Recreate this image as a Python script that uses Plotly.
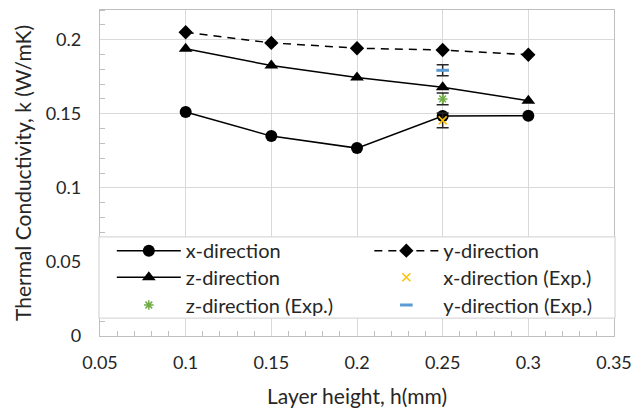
import plotly.graph_objects as go

# Data
layer_h = [0.1, 0.15, 0.2, 0.25, 0.3]
k_x = [0.1512, 0.1349, 0.1268, 0.1484, 0.1487]
k_y = [0.2050, 0.1978, 0.1942, 0.1930, 0.1898]
k_z = [0.1938, 0.1825, 0.1745, 0.1678, 0.1588]

exp_h = [0.25]
k_x_exp = [0.1455]
k_x_exp_err = [0.0050]
k_z_exp = [0.1600]
k_z_exp_err = [0.0040]
k_y_exp = [0.1793]
k_y_exp_err = [0.0037]

FONT = "Lato"
TXT = "#262626"
fig = go.Figure()

line = dict(color="black", width=1.5)
err_style = dict(type="data", color="#262626", thickness=1.5, width=6)

fig.add_trace(go.Scatter(x=layer_h, y=k_x, name="x-direction", mode="lines+markers",
                         line=line, marker=dict(symbol="circle", size=12, color="black"),
                         legend="legend2"))
fig.add_trace(go.Scatter(x=layer_h, y=k_y, name="y-direction", mode="lines+markers",
                         line=dict(color="black", width=1.5, dash="8px,6px"),
                         marker=dict(symbol="diamond", size=11, color="black"),
                         legend="legend3"))
fig.add_trace(go.Scatter(x=layer_h, y=k_z, name="z-direction", mode="lines+markers",
                         line=line, marker=dict(symbol="triangle-up", size=12, color="black"),
                         legend="legend4"))
fig.add_trace(go.Scatter(x=exp_h, y=k_x_exp, name="x-direction (Exp.)", mode="markers",
                         marker=dict(symbol="x-thin-open", size=8, color="#FFC000",
                                     line=dict(color="#FFC000", width=1.5)),
                         error_y=dict(array=k_x_exp_err, **err_style),
                         legend="legend5"))
fig.add_trace(go.Scatter(x=exp_h, y=k_z_exp, name="z-direction (Exp.)", mode="markers",
                         marker=dict(symbol="asterisk-open", size=8, color="#70AD47",
                                     line=dict(color="#70AD47", width=1.5)),
                         error_y=dict(array=k_z_exp_err, **err_style),
                         legend="legend6"))
fig.add_trace(go.Scatter(x=exp_h, y=k_y_exp, name="y-direction (Exp.)", mode="markers",
                         marker=dict(symbol="line-ew-open", size=9, color="#5B9BD5",
                                     line=dict(color="#5B9BD5", width=3)),
                         error_y=dict(array=k_y_exp_err, **err_style),
                         legend="legend7"))

grid = "#D9D9D9"
axis_common = dict(showgrid=True, gridcolor=grid, gridwidth=1.3, showline=True,
                   linecolor="#BFBFBF", linewidth=1.3, mirror=True, zeroline=False,
                   automargin=False,
                   ticks="", tickfont=dict(family=FONT, size=18, color=TXT))

fig.update_xaxes(range=[0.05, 0.35], dtick=0.05, tick0=0.05, tickformat="~g",
                 ticklabelstandoff=10,
                 title=dict(text="Layer height, h(mm)", font=dict(family=FONT, size=21, color=TXT),
                            standoff=17),
                 minor=dict(dtick=0.01, ticks="inside", ticklen=5, tickcolor="#BFBFBF", showgrid=False),
                 **axis_common)
fig.update_yaxes(range=[0, 0.22], dtick=0.05, tick0=0, tickformat="~g",
                 ticklabelstandoff=14,
                 title=dict(text="Thermal Conductivity, k (W/mK)", font=dict(family=FONT, size=21, color=TXT),
                            standoff=8),
                 minor=dict(dtick=0.01, ticks="inside", ticklen=5, tickcolor="#BFBFBF", showgrid=False),
                 **axis_common)

legend_common = dict(font=dict(family=FONT, size=20, color=TXT), bgcolor="rgba(0,0,0,0)",
                     borderwidth=0, orientation="v", itemwidth=64, xanchor="left", yanchor="middle",
                     tracegroupgap=0, itemclick=False)
col1, col2 = 0.023, 0.524
row1, row2, row3 = 0.2617, 0.1801, 0.0951
fig.update_layout(
    showlegend=True,
    legend2=dict(x=col1, y=row1, **legend_common),
    legend3=dict(x=col2, y=row1, **legend_common),
    legend4=dict(x=col1, y=row2, **legend_common),
    legend5=dict(x=col2, y=row2, **legend_common),
    legend6=dict(x=col1, y=row3, **legend_common),
    legend7=dict(x=col2, y=row3, **legend_common),
)

# Legend box (white backdrop with grey border)
fig.add_shape(type="rect", xref="paper", yref="paper", x0=-0.002, x1=1.002, y0=0.055, y1=0.304,
              fillcolor="white", line=dict(color=grid, width=1.3), layer="above")

fig.update_layout(
    width=644, height=408,
    margin=dict(l=100, r=30, t=10, b=72, autoexpand=False),
    plot_bgcolor="white", paper_bgcolor="white",
    font=dict(family=FONT, color=TXT),
)

fig.write_html("out.html")
